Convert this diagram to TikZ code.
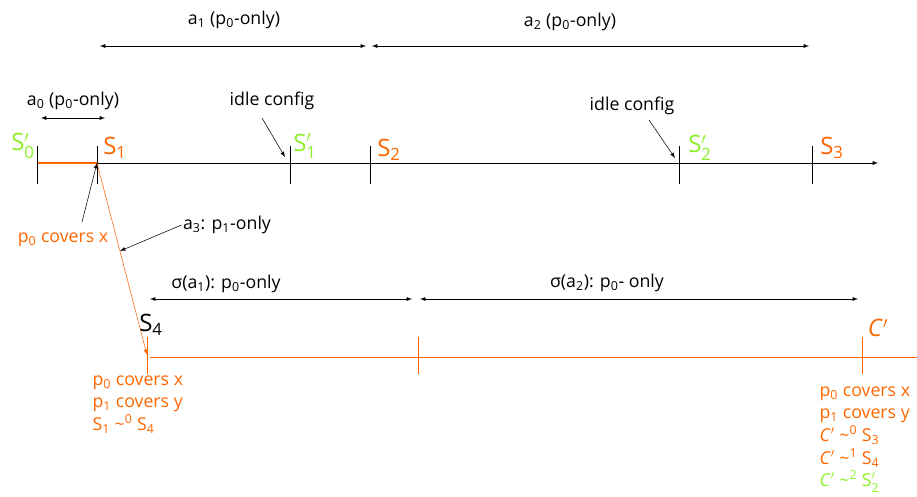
\documentclass[tikz,border=0pt]{standalone}
\usepackage{amsmath}
\usepackage{fontspec}
\setmainfont{Open Sans}
\usepackage{tikz}
\usetikzlibrary{arrows}
\usepackage{xcolor}
\tikzset{>=latex}
\definecolor{orangeS}{RGB}{255,102,0}
\definecolor{greenS}{RGB}{140,240,40}
\newcommand{\subx}[1]{$_{\text{#1}}$}
\newcommand{\supx}[1]{$^{\text{#1}}$}
\newcommand{\subpr}[1]{$_{\text{#1}}^{\prime}$}

\begin{document}
\begin{tikzpicture}[x=0.75pt,y=-0.75pt]
                        % coordinates are pixels of the slide, y grows downwards
                        \tikzstyle{every node}=[font=\fontsize{13.3}{17}\selectfont, inner sep=1pt]
                        \tikzstyle{state}=[font=\fontsize{18}{20}\selectfont]
                        \tikzstyle{run}=[orangeS, line width=1.2pt]
                        \useasboundingbox (0,0) rectangle (917,496);

                        % top time line
                        \coordinate (T0) at (37,163);
                        \coordinate (T1) at (97,163);
                        \coordinate (Tend) at (878,163);
                        \draw[->] (T0) -- (Tend);
                        \draw[run] (T0) -- (T1);
                        \foreach \x in {37,97,290,370,679,812}
                                \draw (\x,146) -- (\x,184);

                        \node[state, greenS] (S0p) at (23,146) {S\subpr{0}};
                        \node[state, orangeS] (S1) at (115,148) {S\subx{1}};
                        \node[state, greenS] (S1p) at (305,146) {S\subpr{1}};
                        \node[state, orangeS] (S2) at (389,150) {S\subx{2}};
                        \node[state, greenS] (S2p) at (700,148) {S\subpr{2}};
                        \node[state, orangeS] (S3) at (832,148) {S\subx{3}};

                        % actions above
                        \node (a0) at (73,101) {a\subx{0} (p\subx{0}-only)};
                        \draw[<->] (41,118) -- (105,118);
                        \node (a1) at (234,20) {a\subx{1} (p\subx{0}-only)};
                        \draw[<->] (100,46) -- (366,46);
                        \node (a2) at (570,22) {a\subx{2} (p\subx{0}-only)};
                        \draw[<->] (372,46) -- (809,46);

                        \node (idle1) at (272,101) {idle config};
                        \coordinate (I1) at (285,157);
                        \draw[->] (262,118) -- (I1);
                        \node (idle2) at (632,106) {idle config};
                        \coordinate (I2) at (675,158);
                        \draw[->] (649,120) -- (I2);

                        % step of p1
                        \node[orangeS] (p0x) at (63,240) {p\subx{0} covers x};
                        \coordinate (p0xtail) at (82,222);
                        \draw[->] (p0xtail) -- (T1);

                        \coordinate (B0) at (147,355);
                        \draw[->, orangeS] (T1) -- (B0);
                        \node (a3) at (227,225) {a\subx{3}: p\subx{1}-only};
                        \coordinate (a3pt) at (120,251);
                        \draw[->] (a3.west) -- (a3pt);

                        % bottom time line
                        \draw[orangeS] (150,357) -- (917,357);
                        \foreach \x in {147,418,862}
                                \draw[orangeS] (\x,337) -- (\x,374);
                        \node[state] (S4) at (151,325) {S\subx{4}};
                        \node[state, orangeS] (Cp) at (878,328) {\textit{C}$'$};

                        \node (sa1) at (226,284) {σ(a\subx{1}): p\subx{0}-only};
                        \draw[<->] (150,299) -- (412,299);
                        \node (sa2) at (607,283) {σ(a\subx{2}): p\subx{0}- only};
                        \draw[<->] (420,299) -- (858,299);

                        \node[orangeS, anchor=north west, align=left] (L4) at (91,374)
                                {p\subx{0} covers x\\ p\subx{1} covers y\\
                                 S\subx{1} \textasciitilde\supx{0} S\subx{4}};
                        \node[orangeS, anchor=north west, align=left] (LC) at (818,385)
                                {p\subx{0} covers x\\ p\subx{1} covers y\\
                                 \textit{C}$'$ \textasciitilde\supx{0} S\subx{3}\\
                                 \textit{C}$'$ \textasciitilde\supx{1} S\subx{4}\\
                                 \textcolor{greenS}{\textit{C}$'$ \textasciitilde\supx{2} S\subpr{2}}};
\end{tikzpicture}
\end{document}
